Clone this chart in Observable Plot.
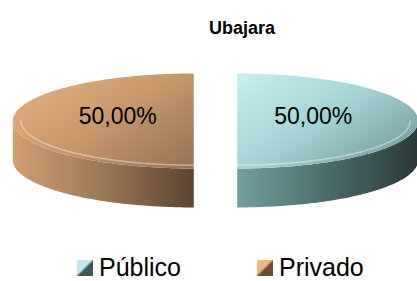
<!DOCTYPE html>
<html><head><meta charset="utf-8">
<script src="https://cdn.jsdelivr.net/npm/d3@7"></script>
<script src="https://cdn.jsdelivr.net/npm/@observablehq/plot@0.6"></script>
<style>
body{margin:0;background:#fff;font-family:Arial,"Liberation Sans",sans-serif;}
#wrap{position:relative;width:417px;height:281px;overflow:hidden;}
#title{position:absolute;left:67px;width:350px;top:18px;text-align:center;font-weight:bold;font-size:18px;line-height:20px;color:#000;}
#chart{position:absolute;left:0;top:50px;}
#legend{position:absolute;left:0;top:250px;width:417px;height:31px;}
.item{position:absolute;top:2.7px;font-size:25px;line-height:28px;white-space:nowrap;color:#000;}
.sw{display:inline-block;width:16px;height:16px;margin-right:6px;vertical-align:baseline;}
</style></head><body>
<div id="wrap"><div id="title">Ubajara</div><div id="chart"></div><div id="legend"></div></div>
<script>
const categories = ["Público", "Privado"];
const values = [50, 50];
const labels = ["50,00%", "50,00%"];
const topColors = [["#c4eef0", "#a2d0d2", "#6f9697"], ["#e4b182", "#c6986c", "#9a7756"]];
const sideColors = [["#739f9f", "#4b6c6c", "#2a3838"], ["#cfa071", "#9c7856", "#5a4431"]];
const swatchColors = [["#c0eaec", "#3d5a5b"], ["#ebb986", "#6a4f36"]];
const legendLeft = [77, 257];

const total = d3.sum(values);
const explode = 0.12, depth = 0.82, N = 180;
let cum = 0;
const slices = categories.map((c, i) => {
  const c0 = cum / total * 360; cum += values[i]; const c1 = cum / total * 360;
  const a0 = (90 - c0) * Math.PI / 180, a1 = (90 - c1) * Math.PI / 180, mid = (a0 + a1) / 2;
  const ox = explode * Math.cos(mid), oy = explode * Math.sin(mid);
  const arc = d3.range(N + 1).map(k => a0 + (a1 - a0) * k / N);
  const top = [{x: ox, y: oy}, ...arc.map(t => ({x: ox + Math.cos(t), y: oy + Math.sin(t)})), {x: ox, y: oy}];
  const front = arc.filter(t => Math.sin(t) <= 1e-9);
  const wall = [...front.map(t => ({x: ox + Math.cos(t), y: oy + Math.sin(t)})),
                ...front.slice().reverse().map(t => ({x: ox + Math.cos(t), y: oy + Math.sin(t) - depth}))];
  const rim = front.map(t => ({x: ox + 0.955 * Math.cos(t), y: oy + 0.93 * Math.sin(t)}));
  const label = [{x: ox + 0.42 * Math.cos(mid), y: oy + 0.42 * Math.sin(mid) + 0.1, text: labels[i]}];
  return {i, top, wall, rim, label};
});

const marks = [];
for (const s of slices) {
  marks.push(Plot.line(s.wall, {x: "x", y: "y", fill: `url(#side${s.i})`, stroke: "none"}));
  marks.push(Plot.line(s.top, {x: "x", y: "y", fill: `url(#top${s.i})`, stroke: "none"}));
  marks.push(Plot.line(s.rim, {x: "x", y: "y", stroke: "#ffffff", strokeOpacity: 0.4, strokeWidth: 1.5}));
  marks.push(Plot.text(s.label, {x: "x", y: "y", text: "text", fontSize: 23, fontFamily: "Arial, 'Liberation Sans', sans-serif", fill: "#000"}));
}

const svg = Plot.plot({
  width: 417, height: 200, margin: 0,
  x: {domain: [-1, 1], range: [34, 396], axis: null},
  y: {domain: [-1, 1], range: [118, 23], axis: null},
  marks
});
const defs = d3.select(svg).insert("defs", ":first-child");
function grad(id, cols, x1, y1, x2, y2) {
  const g = defs.append("linearGradient").attr("id", id)
    .attr("x1", x1).attr("y1", y1).attr("x2", x2).attr("y2", y2);
  cols.forEach((c, k) => g.append("stop").attr("offset", k / (cols.length - 1)).attr("stop-color", c));
}
slices.forEach(s => {
  grad(`top${s.i}`, topColors[s.i], 0, 0.1, 1, 0.9);
  grad(`side${s.i}`, sideColors[s.i], 0, 0, 1, 0);
});
document.getElementById("chart").appendChild(svg);

const legend = document.getElementById("legend");
categories.forEach((c, i) => {
  const it = document.createElement("div");
  it.className = "item";
  it.style.left = legendLeft[i] + "px";
  const sw = document.createElement("span");
  sw.className = "sw";
  sw.style.background = `linear-gradient(135deg, ${swatchColors[i][0]} 0%, ${swatchColors[i][0]} 45%, ${swatchColors[i][1]} 55%, ${swatchColors[i][1]} 100%)`;
  it.appendChild(sw);
  it.appendChild(document.createTextNode(c));
  legend.appendChild(it);
});
</script>
</body></html>
